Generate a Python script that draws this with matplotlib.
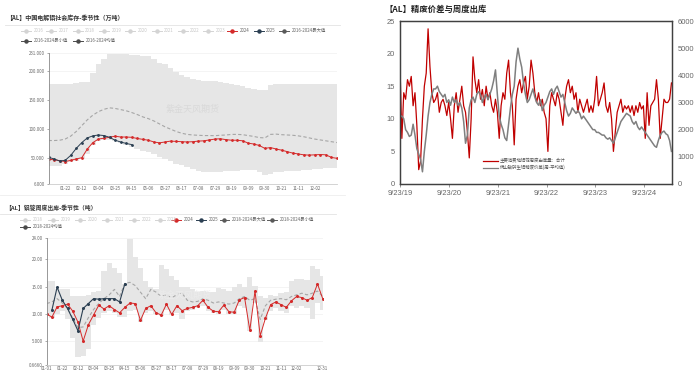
import numpy as np
import pandas as pd
import matplotlib
matplotlib.use('Agg')
import matplotlib.pyplot as plt
from matplotlib.lines import Line2D

plt.rcParams['font.family'] = ['Noto Sans CJK SC', 'DejaVu Sans']

# ---------------- chart 1: social inventory (weekly, day of year) ----------------
inv_2024 = [48.3, 47.5, 46, 44.5, 46.5, 49, 51, 66, 77, 83, 84.5, 86, 88, 86.5, 86.5, 86,
            84, 82.5, 81, 78, 76.5, 78, 79.5, 79, 78.5, 78, 78.5, 79.5, 80, 81.5, 83, 83.5,
            82, 81, 81, 80, 76, 74.5, 72, 67, 68.5, 66, 64, 61.5, 59, 57.5, 56, 55.5, 56,
            56.5, 56, 51.5, 50]
inv_2025 = [51.7, 49, 45.4, 46.5, 55, 67, 77, 85, 88.5, 90, 89, 86, 81, 78, 75.5, 73.5]
inv_mean = [80.5, 80.5, 81, 83, 88, 96, 106, 116, 124, 130, 134, 136.5, 135.5, 133.5, 131.5,
            128.5, 125, 121, 118, 114, 109, 104, 100, 96, 93, 91, 90, 89.5, 89, 89, 88.8,
            89.5, 90, 91, 91, 90.5, 89, 87.5, 85.5, 85, 91, 91.5, 90.5, 90, 89.5, 88.5, 87,
            85, 83, 81.5, 80, 78.5, 77]
inv_max = [178, 178, 178, 178, 178, 178.5, 181, 181, 197, 212, 221, 229, 229, 228, 228, 227,
           227, 226, 225.5, 220, 214, 211, 204, 198, 193, 190, 186, 184, 183, 182, 182, 180,
           179, 178, 175, 173.5, 171, 168, 167, 166.5, 176, 177, 177, 177.5, 178, 178, 178,
           178, 178, 177.5, 177, 177, 178]
inv_min = [37, 37, 37, 40, 44, 45, 48, 58, 72, 80, 82, 82, 80, 76, 73, 70, 66, 63, 60, 57,
           53, 49, 45, 41, 38, 35, 32, 29, 27, 26.5, 26.5, 27, 27.5, 28, 29, 30, 30.5, 30,
           27, 22, 23, 26, 27, 28, 28, 29, 29.5, 30, 31, 32, 33, 33, 33]
inv_yticks = [6, 50, 100, 150, 200, 231]

# ---------------- chart 2: weekly outbound (week index) ----------------
out_2024 = [10.0, 9.4, 11.3, 11.5, 11.8, 10.5, 8.5, 5.0, 8.0, 9.8, 11.6, 10.9, 11.5, 10.8,
            10.2, 11.2, 12.0, 11.9, 8.8, 11.0, 11.5, 10.2, 9.8, 11.8, 9.9, 11.5, 10.6, 11.0,
            11.2, 11.5, 12.5, 11.2, 10.5, 10.4, 11.6, 10.4, 10.3, 12.6, 13.0, 7.0, 14.2, 6.0,
            9.2, 11.7, 12.2, 11.7, 11.2, 12.4, 13.2, 13.0, 12.5, 13.0, 15.5, 12.8]
out_2025 = [10.7, 14.9, 12.5, 11.0, 9.0, 6.9, 11.0, 11.9, 12.8, 12.7, 12.8, 12.8, 12.8, 12.2, 15.5]
out_mean = [11.9, 12.2, 12.8, 12.0, 11.0, 9.2, 7.5, 7.6, 9.3, 10.8, 11.9, 12.8, 13.5, 14.5,
            13.2, 15.6, 15.8, 15.2, 14.0, 12.8, 14.5, 14.0, 13.2, 13.5, 13.0, 13.5, 13.8,
            12.5, 12.2, 12.3, 12.8, 12.5, 12.0, 12.2, 12.0, 11.8, 12.0, 12.8, 13.2, 12.5,
            12.8, 9.0, 11.5, 12.5, 12.7, 12.8, 12.6, 13.2, 13.5, 13.8, 13.5, 13.8, 14.2, 13.2]
out_max = [16.0, 16.0, 14.6, 14.6, 14.6, 13.3, 13.3, 13.3, 13.5, 14.0, 14.2, 17.8, 19.4, 18.4,
           17.5, 15.5, 23.8, 20.5, 18.5, 16.0, 15.0, 14.5, 19.0, 18.3, 17.0, 16.2, 15.0, 15.0,
           14.5, 14.0, 14.2, 14.0, 14.0, 14.8, 14.5, 14.2, 15.0, 15.5, 15.0, 16.8, 15.2, 13.2,
           13.0, 13.5, 13.3, 13.8, 14.0, 16.0, 16.4, 16.4, 16.2, 18.8, 18.2, 17.0]
out_min = [9.8, 9.3, 10.0, 10.5, 9.0, 5.5, 2.0, 2.2, 3.6, 8.0, 9.3, 10.2, 10.5, 10.2, 9.5,
           9.5, 10.5, 10.8, 8.6, 10.2, 10.5, 10.0, 9.6, 10.8, 9.8, 10.2, 9.0, 10.5, 10.8, 11.0,
           11.5, 10.5, 10.2, 10.0, 10.8, 10.0, 10.0, 11.5, 11.0, 6.8, 12.0, 4.8, 8.8, 10.5,
           11.0, 10.5, 10.2, 11.5, 11.0, 11.5, 11.0, 9.0, 12.0, 10.8]
out_xticks = [0, 3, 6, 9, 12, 15, 18, 21, 24, 27, 30, 33, 36, 39, 42, 45, 48, 53]
out_xlabels = ['01-01', '01-22', '02-12', '03-04', '03-25', '04-15', '05-06', '05-27', '06-17',
               '07-08', '07-29', '08-19', '09-09', '09-30', '10-21', '11-11', '12-02', '12-31']
out_yticks = [0.666, 5, 10, 15, 20, 24]
out_ylabels = ['0.6660', '5.000', '10.00', '15.00', '20.00', '24.00']

# ---------------- chart 3: spread vs outbound (bi-weekly from 2019-09-23) ----------------
ship_total = [18, 7, 14, 13, 16, 15, 16.5, 12, 14, 9, 2.2, 3.5, 10, 15, 17, 23.8, 18, 14, 12.5,
              13, 14, 11, 12.5, 13, 12, 10.5, 12.5,
              10, 7, 12, 14, 11, 13, 15, 12, 11, 8, 4, 10, 19.5, 16, 14, 16, 13, 14.5, 12, 15,
              13, 14, 12, 11, 13, 11,
              7, 12, 14, 13, 17, 19, 14, 12, 6, 13, 15, 16, 14, 15.5, 16.5, 13, 15, 19, 17, 14,
              12.5, 14, 12, 13, 11, 10,
              5, 12, 14, 13, 12, 14, 13, 11, 9, 13, 15, 16, 14, 15, 13, 14, 11, 13, 12, 11, 12,
              13, 11, 12, 11, 13,
              16.5, 12, 13, 14, 15.5, 12, 11, 12.5, 10, 5, 8, 11, 12, 13, 11, 12, 11.5, 12, 11,
              12, 10.5, 12, 11, 12.5, 11.5, 12,
              7, 14, 9, 12, 12.5, 13, 16, 13, 7, 10, 13, 12.5, 12.5, 13, 15.5]
scrap_spread = [2500, 2500, 2400, 2000, 1900, 1750, 1800, 2200, 1800, 1300, 1100, 900, 450, 1200,
                1800, 2500, 3000, 3300, 3500, 3500, 3600, 3400, 3300, 3200, 3300, 3000, 3100,
                2900, 3200, 3000, 3100, 2900, 3000, 2800, 2300, 1500, 1800, 2800, 3100, 3200,
                3000, 3300, 3400, 3300, 3000, 3200, 3300, 3100, 3300, 3500, 3800, 4200, 3300,
                2500, 2200, 2000, 1700, 1600, 2200, 2800, 3300, 3600, 4500, 5000, 4600, 4300,
                3700, 3300, 3000, 3100, 3300, 3500, 3200, 3000, 2900, 3100, 2700, 2900, 3000,
                3200, 3400, 3500, 3300, 3500, 3600, 3400, 3200, 3300, 3000, 2700, 2500, 2600,
                2800, 2700, 2600, 2700, 2600, 2400, 2500, 2400, 2300, 2200, 2100, 2000, 2000,
                1900, 1900, 1850, 1800, 1800, 1700, 1650, 1700, 1600, 1500, 1700, 1900, 2100,
                2300, 2400, 2500, 2600, 2550, 2500, 2300, 2200, 2300, 2100, 2000, 2100, 2000,
                1900, 1800, 1700, 1600, 1500, 1400, 1350, 1600, 1800, 1900, 1950, 1850, 1800,
                1600, 1200]
date_labels = ['9/23/19', '9/23/20', '9/23/21', '9/23/22', '9/23/23', '9/23/24']

W, H = 699, 375
fig = plt.figure(figsize=(W / 100, H / 100), dpi=100)
fig.patch.set_facecolor('white')

RED = '#d42a2a'
NAVY = '#2b3f52'
BAND = '#e6e6e6'
GRID = '#f2f2f2'
TXT = '#666666'


def px_axes(l, t, r, b):
    return fig.add_axes([l / W, 1 - b / H, (r - l) / W, (b - t) / H])


def fig_line(x0, x1, y, color, lw=0.6):
    fig.add_artist(Line2D([x0 / W, x1 / W], [1 - y / H, 1 - y / H], color=color, lw=lw,
                          transform=fig.transFigure))


def legend_item(x, y, color, text, fs=3.2, tcolor=TXT):
    fig.add_artist(Line2D([(x - 5) / W, x / W, (x + 5) / W], [1 - y / H] * 3, color=color,
                          lw=0.7, marker='o', ms=2.2, markevery=[1], transform=fig.transFigure))
    fig.text((x + 7.5) / W, 1 - y / H, text, fontsize=fs, color=tcolor, va='center', ha='left')


def style_small(ax):
    for s in ['top', 'right']:
        ax.spines[s].set_visible(False)
    ax.spines['left'].set_color('#888888')
    ax.spines['left'].set_linewidth(0.6)
    ax.spines['bottom'].set_color('#cccccc')
    ax.spines['bottom'].set_linewidth(0.6)
    ax.tick_params(axis='both', labelsize=3.2, colors='#888888', length=1.5, width=0.5,
                   pad=1.2, labelcolor=TXT)
    ax.tick_params(axis='x', length=0)
    ax.grid(axis='y', color=GRID, lw=0.6)
    ax.set_axisbelow(True)


# ================= chart 1 =================
fig.text(6 / W, 1 - 17.5 / H, '【AL】中国电解铝社会库存-季节性（万吨）', fontsize=4.3,
         fontweight='bold', color='#333333', va='center')
fig_line(5, 340, 25, '#e3e3e3')
years_grey = ['2016', '2017', '2018', '2019', '2020', '2021', '2022', '2023']
xs_row = [26, 51, 77.7, 104, 130, 156.7, 182.7, 208]
for xx, yy in zip(xs_row, years_grey):
    legend_item(xx, 30.5, '#d4d4d4', yy, tcolor='#c8c8c8')
legend_item(232.3, 30.5, RED, '2024')
legend_item(258.7, 30.5, NAVY, '2025')
legend_item(284.3, 30.5, '#5a5a5a', '2016-2024最大值')
legend_item(26, 40.5, '#4a4a4a', '2016-2024最小值')
legend_item(78, 40.5, '#4a4a4a', '2016-2024均值')

ax1 = px_axes(48.5, 52.7, 337, 184)
d1 = np.arange(len(inv_2024)) * 7
ax1.fill_between(d1, inv_min, inv_max, step='mid', color=BAND, lw=0)
ax1.plot(d1, inv_mean, color='#a6a6a6', lw=0.8, ls=(0, (3, 2)))
ax1.plot(d1, inv_2024, color=RED, lw=0.7, marker='o', ms=1.0)
ax1.plot(d1[:len(inv_2025)], inv_2025, color=NAVY, lw=0.7, marker='o', ms=1.0)
ax1.text(0.5, 0.57, '紫金天风期货', transform=ax1.transAxes, fontsize=6.5, color='#d9d9d9',
         ha='center', va='center')
ax1.set_xlim(0, 364)
ax1.set_ylim(6, 231)
ax1.set_yticks(inv_yticks)
ax1.set_yticklabels(['{:,.3f}'.format(v).replace(',', '') for v in inv_yticks])
tick_days = [21 * k for k in range(1, 17)]
ax1.set_xticks(tick_days)
ax1.set_xticklabels([(pd.Timestamp('2024-01-01') + pd.Timedelta(days=d)).strftime('%m-%d')
                     for d in tick_days])
style_small(ax1)
fig_line(0, 345, 195, '#eeeeee')

# ================= chart 2 =================
fig.text(5 / W, 1 - 208 / H, '【AL】铝锭周度出库-季节性（吨）', fontsize=4.2,
         fontweight='bold', color='#333333', va='center')
fig_line(0, 336, 214.3, '#e3e3e3')
years_grey2 = ['2018', '2019', '2020', '2021', '2022', '2023']
xs_row2 = [25, 53.3, 80, 107.3, 134, 159.5]
for xx, yy in zip(xs_row2, years_grey2):
    legend_item(xx, 219.5, '#d4d4d4', yy, tcolor='#c8c8c8')
legend_item(176, 219.5, RED, '2024')
legend_item(201, 219.5, NAVY, '2025')
legend_item(224.5, 219.5, '#5a5a5a', '2018-2024最大值')
legend_item(272, 219.5, '#5a5a5a', '2018-2024最小值')
legend_item(25, 227, '#4a4a4a', '2018-2024均值')

ax2 = px_axes(46.7, 237.7, 322.7, 364.7)
w2 = np.arange(len(out_2024))
ax2.fill_between(w2, out_min, out_max, step='mid', color=BAND, lw=0)
ax2.plot(w2, out_mean, color='#a6a6a6', lw=0.8, ls=(0, (3, 2)))
ax2.plot(w2, out_2024, color=RED, lw=0.7, marker='o', ms=1.2)
ax2.plot(w2[1:len(out_2025) + 1], out_2025, color=NAVY, lw=0.8, marker='o', ms=1.2)
ax2.text(0.5, 0.55, '紫金天风期货', transform=ax2.transAxes, fontsize=6.5, color='#ececec',
         ha='center', va='center')
ax2.set_xlim(0, 53)
ax2.set_ylim(0.666, 24)
ax2.set_yticks(out_yticks)
ax2.set_yticklabels(out_ylabels)
ax2.set_xticks(out_xticks)
ax2.set_xticklabels(out_xlabels)
style_small(ax2)

# ================= chart 3 =================
fig.text(384 / W, 1 - 9.5 / H, '【AL】精废价差与周度出库', fontsize=6, fontweight='bold',
         color='#222222', va='center')
ax3 = px_axes(400, 21, 672, 184)
dates = pd.date_range('2019-09-23', periods=len(ship_total), freq='14D')
ax3.plot(dates, ship_total, color='#c00000', lw=0.9)
ax3.set_ylim(0, 25)
ax3.set_yticks([0, 5, 10, 15, 20, 25])
ax3b = ax3.twinx()
ax3b.plot(dates, scrap_spread, color='#7f7f7f', lw=1.1)
ax3b.set_ylim(0, 6000)
ax3b.set_yticks([0, 1000, 2000, 3000, 4000, 5000, 6000])
ax3.set_xlim(pd.Timestamp('2019-09-23'), pd.Timestamp('2025-04-18'))
tick_dates = [pd.Timestamp('%d-09-23' % y) for y in range(2019, 2025)]
ax3.set_xticks(tick_dates)
ax3.set_xticklabels(date_labels)
for a in (ax3, ax3b):
    for s in a.spines.values():
        s.set_color('#404040')
        s.set_linewidth(0.9)
    a.tick_params(axis='y', length=0, labelsize=5.4, labelcolor='#666666', pad=4)
    for lab in a.get_yticklabels():
        lab.set_family(['Liberation Sans', 'DejaVu Sans'])
ax3.tick_params(axis='x', length=2.5, width=0.6, color='#888888', labelsize=5.4,
                labelcolor='#666666', pad=2)
for lab in ax3.get_xticklabels():
    lab.set_family(['Liberation Sans', 'DejaVu Sans'])

# legend inside chart 3
fig_line(483, 498, 161, '#c00000', lw=0.9)
fig.text(500 / W, 1 - 161 / H, '主要消费地铝锭周度出库量：合计', fontsize=3.2, color='#555555',
         va='center')
fig_line(483, 498, 167.7, '#7f7f7f', lw=0.9)
fig.text(500 / W, 1 - 167.7 / H, '佛山破碎生铝精废价差(周-平均值)', fontsize=3.2, color='#555555',
         va='center')

fig.savefig('out.png', dpi=100, facecolor='white')
